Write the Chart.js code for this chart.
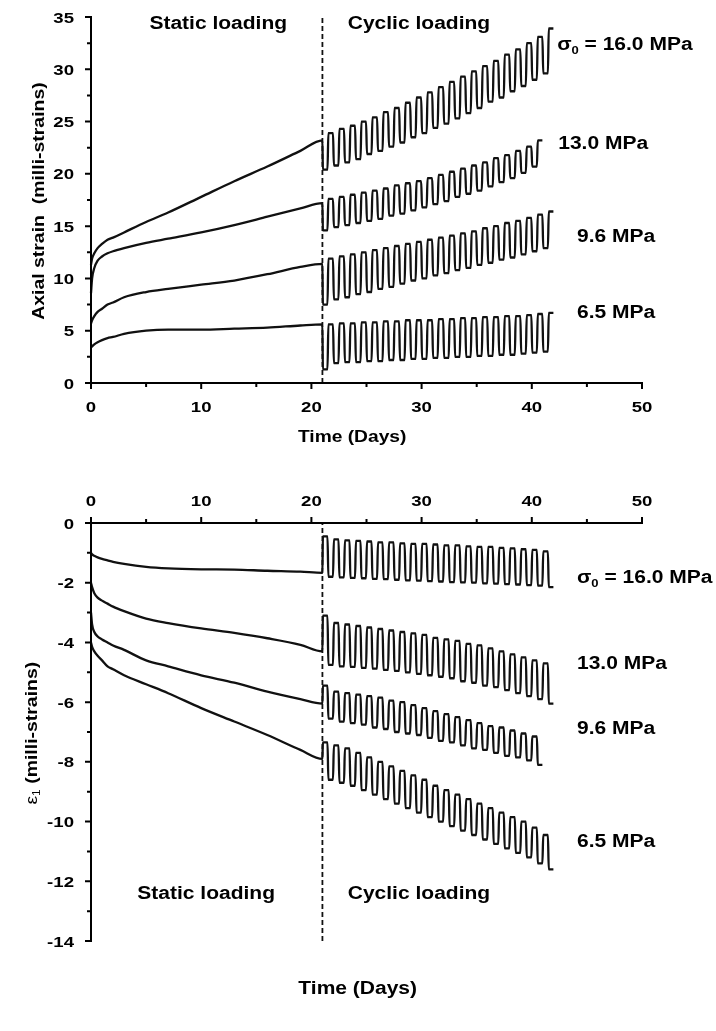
<!DOCTYPE html>
<html>
<head>
<meta charset="utf-8">
<script src="https://cdn.jsdelivr.net/npm/chart.js@4.4.1/dist/chart.umd.min.js"></script>
<style>
  html, body { margin: 0; padding: 0; background: #fff; }
  canvas { display: block; }
</style>
</head>
<body>
<canvas id="axialChart" width="716" height="460"></canvas>
<canvas id="lateralChart" width="716" height="571"></canvas>
<script>
// Time axis ticks (days)
const dayMajor = [0, 10, 20, 30, 40, 50];
const dayMinor = [5, 15, 25, 35, 45];
const axialMajor = [0, 5, 10, 15, 20, 25, 30, 35];
const axialMinor = [2.5, 7.5, 12.5, 17.5, 22.5, 27.5, 32.5];
const lateralMajor = [0, -2, -4, -6, -8, -10, -12, -14];
const lateralMinor = [-1, -3, -5, -7, -9, -11, -13];

const stressLabels = ['16.0', '13.0', '9.6', '6.5'];
const loadChange = 21; // static -> cyclic (days)

// Static loading phase, sampled at these times
const staticTime = [0, 0.1, 0.3, 0.6, 1, 1.5, 2, 3, 5, 7, 10, 13, 16, 19, 21];

// Axial strain (milli-strains), static phase
const axialStatic16 = [11.3, 11.9, 12.4, 12.9, 13.3, 13.7, 13.9, 14.4, 15.4, 16.3, 17.8, 19.3, 20.7, 22.2, 23.2];
const axialStatic13 = [8.6, 10.0, 11.0, 11.7, 12.1, 12.4, 12.6, 12.9, 13.4, 13.8, 14.4, 15.1, 15.9, 16.7, 17.2];
const axialStatic96 = [5.7, 6.0, 6.4, 6.8, 7.1, 7.5, 7.7, 8.2, 8.7, 9.0, 9.4, 9.8, 10.4, 11.1, 11.4];
const axialStatic65 = [3.4, 3.5, 3.7, 3.9, 4.1, 4.3, 4.4, 4.7, 5.0, 5.1, 5.1, 5.2, 5.3, 5.5, 5.6];

// Axial strain, cyclic phase: one unload / load pair per day
const axialUnload16 = [20.4, 20.8, 21.1, 21.4, 21.9, 22.2, 22.6, 23.0, 23.5, 23.9, 24.4, 24.8, 25.3, 25.8, 26.3, 26.9, 27.3, 27.9, 28.4, 29.0, 29.6];
const axialLoad16 = [23.9, 24.3, 24.6, 25.0, 25.4, 25.9, 26.3, 26.8, 27.3, 27.8, 28.3, 28.8, 29.3, 29.8, 30.3, 30.8, 31.4, 31.9, 32.5, 33.1, 33.9];
const axialUnload13 = [14.6, 14.9, 15.1, 15.3, 15.5, 15.7, 16.0, 16.2, 16.5, 16.8, 17.1, 17.4, 17.8, 18.1, 18.4, 18.8, 19.2, 19.6, 20.1, 20.7];
const axialLoad13 = [17.6, 17.8, 18.0, 18.2, 18.4, 18.6, 18.9, 19.1, 19.3, 19.6, 19.9, 20.2, 20.5, 20.8, 21.1, 21.5, 21.8, 22.2, 22.6, 23.2];
const axialUnload96 = [7.5, 8.0, 8.2, 8.5, 8.7, 9.0, 9.2, 9.5, 9.8, 10.0, 10.3, 10.5, 10.8, 11.0, 11.3, 11.5, 11.8, 12.0, 12.3, 12.6, 12.9];
const axialLoad96 = [11.9, 12.1, 12.3, 12.5, 12.7, 12.9, 13.1, 13.3, 13.5, 13.7, 13.9, 14.1, 14.3, 14.5, 14.8, 15.0, 15.3, 15.5, 15.8, 16.1, 16.4];
const axialUnload65 = [1.3, 1.9, 2.0, 2.0, 2.1, 2.1, 2.2, 2.2, 2.3, 2.3, 2.4, 2.4, 2.5, 2.5, 2.6, 2.6, 2.7, 2.7, 2.8, 2.9, 3.0];
const axialLoad65 = [5.6, 5.7, 5.7, 5.8, 5.8, 5.9, 5.9, 6.0, 6.0, 6.0, 6.1, 6.1, 6.2, 6.2, 6.3, 6.3, 6.4, 6.4, 6.5, 6.6, 6.7];

// Lateral strain e1 (milli-strains), static phase
const latStatic16 = [-1.0, -1.05, -1.1, -1.15, -1.2, -1.25, -1.3, -1.37, -1.47, -1.52, -1.55, -1.56, -1.6, -1.63, -1.67];
const latStatic13 = [-2.0, -2.15, -2.35, -2.5, -2.6, -2.7, -2.8, -2.95, -3.2, -3.35, -3.53, -3.68, -3.86, -4.08, -4.3];
const latStatic96 = [-3.0, -3.4, -3.65, -3.8, -3.9, -4.0, -4.1, -4.25, -4.6, -4.8, -5.1, -5.35, -5.65, -5.9, -6.05];
const latStatic65 = [-4.0, -4.15, -4.3, -4.45, -4.6, -4.8, -4.9, -5.1, -5.4, -5.7, -6.2, -6.65, -7.1, -7.6, -7.9];

// Lateral strain, cyclic phase
const latUnload16 = [-0.45, -0.55, -0.58, -0.6, -0.62, -0.65, -0.65, -0.68, -0.7, -0.7, -0.72, -0.75, -0.75, -0.78, -0.8, -0.8, -0.83, -0.85, -0.88, -0.9, -0.95];
const latLoad16 = [-1.8, -1.82, -1.84, -1.85, -1.87, -1.88, -1.9, -1.92, -1.93, -1.95, -1.96, -1.98, -1.99, -2.0, -2.02, -2.03, -2.05, -2.06, -2.08, -2.1, -2.15];
const latUnload13 = [-3.1, -3.35, -3.4, -3.45, -3.5, -3.55, -3.6, -3.65, -3.7, -3.75, -3.85, -3.9, -3.95, -4.05, -4.1, -4.2, -4.3, -4.4, -4.5, -4.6, -4.7];
const latLoad13 = [-4.75, -4.8, -4.82, -4.85, -4.88, -4.92, -4.95, -5.0, -5.05, -5.1, -5.15, -5.2, -5.3, -5.35, -5.45, -5.5, -5.6, -5.7, -5.8, -5.9, -6.05];
const latUnload96 = [-5.45, -5.65, -5.7, -5.75, -5.8, -5.85, -5.95, -6.0, -6.1, -6.2, -6.3, -6.4, -6.5, -6.6, -6.7, -6.8, -6.85, -6.95, -7.05, -7.15];
const latLoad96 = [-6.55, -6.65, -6.7, -6.75, -6.85, -6.9, -7.0, -7.05, -7.1, -7.2, -7.3, -7.35, -7.45, -7.55, -7.6, -7.7, -7.8, -7.85, -7.95, -8.1];
const latUnload65 = [-7.35, -7.45, -7.55, -7.7, -7.85, -8.0, -8.15, -8.3, -8.45, -8.6, -8.8, -8.95, -9.1, -9.25, -9.4, -9.55, -9.7, -9.85, -10.0, -10.2, -10.45];
const latLoad65 = [-8.6, -8.7, -8.8, -8.95, -9.1, -9.25, -9.4, -9.55, -9.7, -9.85, -10.0, -10.15, -10.3, -10.45, -10.6, -10.75, -10.9, -11.05, -11.2, -11.4, -11.6];

const FONT = '"Liberation Sans", Arial, sans-serif';
const SX = 1.2; // the original lettering is a little wider than Arial

// static points, then one unload half-day and one load half-day per cycle
function curve(staticVals, unload, load) {
    const pts = staticTime.map((t, i) => ({ x: t, y: staticVals[i] }));
    unload.forEach((u, i) => {
        const day = loadChange + i;
        pts.push({ x: day + 0.04, y: u }, { x: day + 0.46, y: u },
                 { x: day + 0.54, y: load[i] }, { x: day + 0.96, y: load[i] });
    });
    return pts;
}

function lineSet(points) {
    return {
        data: points,
        borderColor: '#111',
        borderWidth: 2.3,
        pointRadius: 0,
        cubicInterpolationMode: 'monotone',
        clip: false
    };
}

function dashSet(lo, hi) {
    return {
        data: [{ x: loadChange, y: lo }, { x: loadChange, y: hi }],
        borderColor: '#111',
        borderWidth: 1.8,
        borderDash: [5, 3],
        pointRadius: 0
    };
}

function drawText(ctx, parts, x, y, size, align, rotate) {
    ctx.save();
    ctx.translate(x, y);
    if (rotate) ctx.rotate(-Math.PI / 2);
    ctx.scale(SX, 1);
    ctx.textAlign = 'left';
    ctx.textBaseline = 'alphabetic';
    const fontFor = p => (p.plain ? '' : 'bold ') + (p.sub ? size * 0.62 : size) + 'px ' + FONT;
    let w = 0;
    parts.forEach(p => { ctx.font = fontFor(p); w += ctx.measureText(p.t).width; });
    let cx = align === 'center' ? -w / 2 : (align === 'right' ? -w : 0);
    parts.forEach(p => {
        ctx.font = fontFor(p);
        ctx.fillText(p.t, cx, size * 0.36 + (p.sub ? size * 0.22 : 0));
        cx += ctx.measureText(p.t).width;
    });
    ctx.restore();
}

// axes, tick marks, tick labels and notes
const decor = {
    id: 'decor',
    afterDraw(chart, args, opts) {
        const { ctx, chartArea: a, scales: { x, y } } = chart;
        const onTop = opts.xAxisAt === 'top';
        const axisY = onTop ? a.top : a.bottom;
        const dir = onTop ? -1 : 1;
        ctx.save();
        ctx.strokeStyle = '#000';
        ctx.fillStyle = '#000';
        ctx.lineWidth = 2;
        ctx.beginPath();
        ctx.moveTo(a.left - 1, axisY);
        ctx.lineTo(x.getPixelForValue(x.max) + 1, axisY);
        ctx.moveTo(a.left, a.top - 1);
        ctx.lineTo(a.left, a.bottom + 1);
        opts.xMajor.forEach(v => { const px = x.getPixelForValue(v); ctx.moveTo(px, axisY); ctx.lineTo(px, axisY + dir * 6); });
        opts.xMinor.forEach(v => { const px = x.getPixelForValue(v); ctx.moveTo(px, axisY); ctx.lineTo(px, axisY + dir * 4); });
        opts.yMajor.forEach(v => { const py = y.getPixelForValue(v); ctx.moveTo(a.left, py); ctx.lineTo(a.left - 6, py); });
        opts.yMinor.forEach(v => { const py = y.getPixelForValue(v); ctx.moveTo(a.left, py); ctx.lineTo(a.left - 4, py); });
        ctx.stroke();
        opts.xMajor.forEach(v => drawText(ctx, [{ t: String(v) }], x.getPixelForValue(v), axisY + dir * 23, 15.5, 'center'));
        opts.yMajor.forEach(v => drawText(ctx, [{ t: String(v) }], a.left - 17, y.getPixelForValue(v), 15.5, 'right'));
        opts.notes.forEach(n => drawText(ctx, n.parts, x.getPixelForValue(n.x), y.getPixelForValue(n.y), n.size, n.align, n.rotate));
        ctx.restore();
    }
};

function sigmaLabel(s) {
    return [{ t: '\u03c3' }, { t: '0', sub: true }, { t: ' = ' + s + ' MPa' }];
}

function baseOptions(xr, yr, padding, decorOpts) {
    return {
        responsive: false,
        animation: false,
        events: [],
        layout: { padding: padding },
        scales: {
            x: { type: 'linear', min: xr[0], max: xr[1], display: false },
            y: { type: 'linear', min: yr[0], max: yr[1], display: false }
        },
        plugins: {
            legend: { display: false },
            tooltip: { enabled: false },
            decor: decorOpts
        }
    };
}

// Axial strain chart
new Chart(document.getElementById('axialChart'), {
    type: 'line',
    data: {
        datasets: [
            lineSet(curve(axialStatic16, axialUnload16, axialLoad16)),
            lineSet(curve(axialStatic13, axialUnload13, axialLoad13)),
            lineSet(curve(axialStatic96, axialUnload96, axialLoad96)),
            lineSet(curve(axialStatic65, axialUnload65, axialLoad65)),
            dashSet(0, 35)
        ]
    },
    options: baseOptions([0, 50], [0, 35], { left: 91, right: 74, top: 17, bottom: 77 }, {
        xAxisAt: 'bottom',
        xMajor: dayMajor, xMinor: dayMinor, yMajor: axialMajor, yMinor: axialMinor,
        notes: [
            { parts: [{ t: 'Static loading' }], x: 5.3, y: 34.5, size: 17.5, align: 'left' },
            { parts: [{ t: 'Cyclic loading' }], x: 23.3, y: 34.5, size: 17.5, align: 'left' },
            { parts: sigmaLabel(stressLabels[0]), x: 42.3, y: 32.4, size: 17.5, align: 'left' },
            { parts: [{ t: stressLabels[1] + ' MPa' }], x: 42.4, y: 23.0, size: 17.5, align: 'left' },
            { parts: [{ t: stressLabels[2] + ' MPa' }], x: 44.1, y: 14.1, size: 17.5, align: 'left' },
            { parts: [{ t: stressLabels[3] + ' MPa' }], x: 44.1, y: 6.8, size: 17.5, align: 'left' },
            { parts: [{ t: 'Time (Days)' }], x: 23.7, y: -5.1, size: 16, align: 'center' },
            { parts: [{ t: 'Axial strain  (milli-strains)' }], x: -4.75, y: 17.4, size: 16.2, align: 'center', rotate: true }
        ]
    }),
    plugins: [decor]
});

// Lateral strain chart (time axis on top)
new Chart(document.getElementById('lateralChart'), {
    type: 'line',
    data: {
        datasets: [
            lineSet(curve(latStatic16, latUnload16, latLoad16)),
            lineSet(curve(latStatic13, latUnload13, latLoad13)),
            lineSet(curve(latStatic96, latUnload96, latLoad96)),
            lineSet(curve(latStatic65, latUnload65, latLoad65)),
            dashSet(-14, 0)
        ]
    },
    options: baseOptions([0, 50], [-14, 0], { left: 91, right: 74, top: 63, bottom: 90 }, {
        xAxisAt: 'top',
        xMajor: dayMajor, xMinor: dayMinor, yMajor: lateralMajor, yMinor: lateralMinor,
        notes: [
            { parts: sigmaLabel(stressLabels[0]), x: 44.1, y: -1.81, size: 17.5, align: 'left' },
            { parts: [{ t: stressLabels[1] + ' MPa' }], x: 44.1, y: -4.69, size: 17.5, align: 'left' },
            { parts: [{ t: stressLabels[2] + ' MPa' }], x: 44.1, y: -6.84, size: 17.5, align: 'left' },
            { parts: [{ t: stressLabels[3] + ' MPa' }], x: 44.1, y: -10.63, size: 17.5, align: 'left' },
            { parts: [{ t: 'Static loading' }], x: 4.2, y: -12.37, size: 17.5, align: 'left' },
            { parts: [{ t: 'Cyclic loading' }], x: 23.3, y: -12.37, size: 17.5, align: 'left' },
            { parts: [{ t: 'Time (Days)' }], x: 24.2, y: -15.56, size: 17.5, align: 'center' },
            { parts: [{ t: '\u03b5', plain: true }, { t: '1', sub: true, plain: true }, { t: ' (milli-strains)' }],
              x: -5.45, y: -7.04, size: 16.2, align: 'center', rotate: true }
        ]
    }),
    plugins: [decor]
});
</script>
</body>
</html>
